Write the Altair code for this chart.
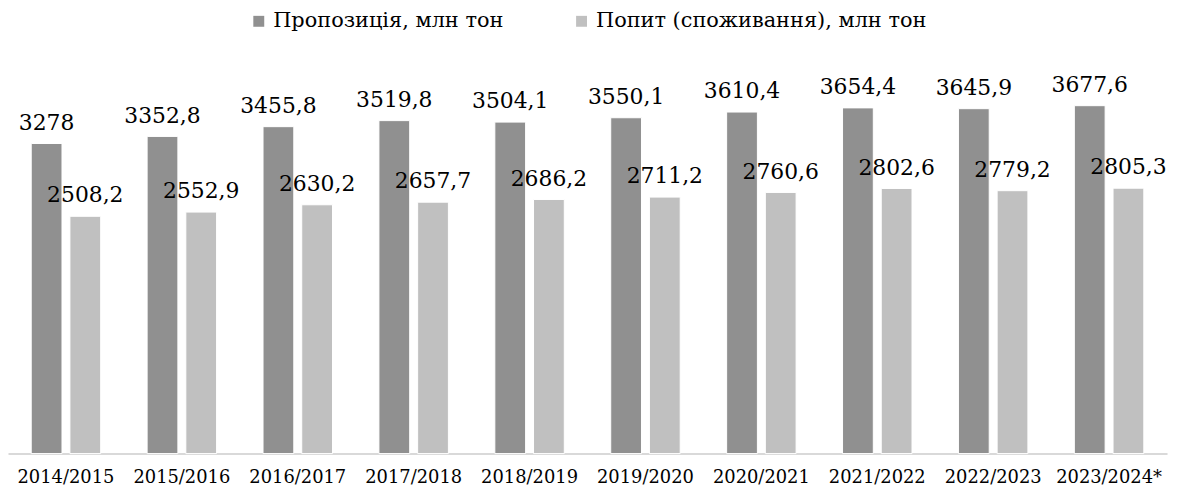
import altair as alt
import pandas as pd

seasons = ["2014/2015", "2015/2016", "2016/2017", "2017/2018", "2018/2019",
           "2019/2020", "2020/2021", "2021/2022", "2022/2023", "2023/2024*"]
supply = [3278, 3352.8, 3455.8, 3519.8, 3504.1, 3550.1, 3610.4, 3654.4, 3645.9, 3677.6]
demand = [2508.2, 2552.9, 2630.2, 2657.7, 2686.2, 2711.2, 2760.6, 2802.6, 2779.2, 2805.3]
series = ["Пропозиція, млн тон", "Попит (споживання), млн тон"]
colors = ["#909090", "#c0c0c0"]

rows = []
for i, s in enumerate(seasons):
    for name, vals in zip(series, [supply, demand]):
        v = vals[i]
        rows.append({"season": s, "series": name, "value": v,
                     "label": f"{v:g}".replace(".", ",")})
df = pd.DataFrame(rows)

FONT = "DejaVu Serif"

x = alt.X("season:N", sort=seasons,
          scale=alt.Scale(paddingInner=0, paddingOuter=0),
          axis=alt.Axis(title=None, labelAngle=0, ticks=False, grid=False,
                        domainColor="#d9d9d9", domainWidth=2,
                        labelFont=FONT, labelFontSize=18, labelColor="#000000",
                        labelPadding=15))
xo = alt.XOffset("series:N", sort=series,
                 scale=alt.Scale(domain=series, paddingInner=0.205, paddingOuter=0.6))
y = alt.Y("value:Q", scale=alt.Scale(domain=[0, 4000], nice=False), axis=None)

bars = alt.Chart(df).mark_bar(stroke="#ffffff", strokeWidth=1).encode(
    x=x, xOffset=xo, y=y,
    color=alt.Color("series:N", sort=series,
                    scale=alt.Scale(domain=series, range=colors),
                    legend=alt.Legend(title=None, orient="none", legendX=242, legendY=-65,
                                      direction="horizontal", symbolType="square",
                                      symbolSize=121, symbolStrokeWidth=0,
                                      labelFont=FONT, labelFontSize=21, labelLimit=0,
                                      labelColor="#000000", labelOffset=4,
                                      columnPadding=68)),
)

labels = alt.Chart(df).mark_text(dy=-14, baseline="alphabetic", fontSize=22,
                                 font=FONT, color="#000000").encode(
    x=x, xOffset=xo, y=y, text="label:N"
)

chart = alt.layer(bars, labels).properties(
    width=1167, height=381,
    padding={"left": 0, "top": 66, "right": 4, "bottom": 32},
    autosize=alt.AutoSizeParams(type="none"),
).configure_view(stroke=None)

chart.save("out.html", embed_options={"renderer": "svg", "actions": False})
